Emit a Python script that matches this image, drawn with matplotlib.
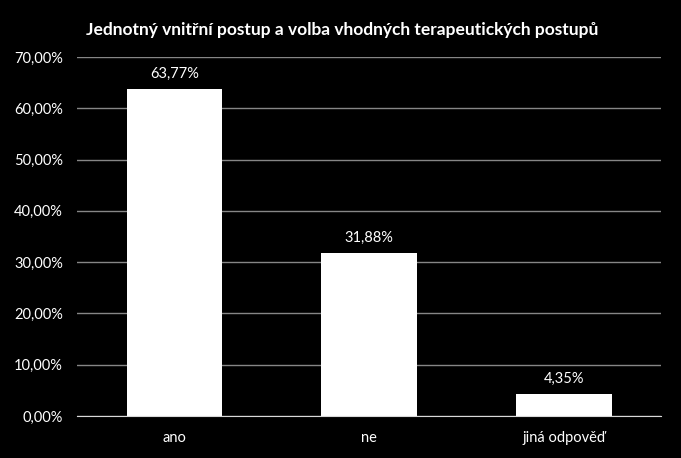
import numpy as np
import matplotlib.pyplot as plt
from matplotlib.ticker import FuncFormatter

categories = ['ano', 'ne', 'jiná odpověď']
values = [63.77, 31.88, 4.35]
title = 'Jednotný vnitřní postup a volba vhodných terapeutických postupů'

plt.rcParams['font.family'] = ['Lato', 'DejaVu Sans']

fig = plt.figure(figsize=(6.81, 4.58), dpi=100, facecolor='black')
ax = fig.add_axes([0.113, 0.0917, 0.858, 0.7838], facecolor='black')

x = np.arange(len(categories))
bars = ax.bar(x, values, width=0.49, color='white', zorder=3)

for b, v in zip(bars, values):
    ax.text(b.get_x() + b.get_width() / 2, v + 1.5, f'{v:.2f}%'.replace('.', ','),
            ha='center', va='bottom', color='white', fontsize=10.5)

ax.set_ylim(0, 70)
ax.set_xlim(-0.5, len(categories) - 0.5)
ax.set_yticks(np.arange(0, 71, 10))
ax.yaxis.set_major_formatter(FuncFormatter(lambda v, p: f'{v:.2f}%'.replace('.', ',')))
ax.set_xticks(x)
ax.set_xticklabels(categories)
ax.tick_params(colors='white', labelsize=10.5, length=0)
ax.tick_params(axis='x', pad=11)
ax.tick_params(axis='y', pad=10)
ax.grid(axis='y', color='#868686', linewidth=1, zorder=0)
for s in ['top', 'right', 'left']:
    ax.spines[s].set_visible(False)
ax.spines['bottom'].set_color('#d9d9d9')
ax.spines['bottom'].set_zorder(4)

fig.text(0.503, 0.935, title, ha='center', va='center', color='white',
         fontsize=12.5, fontweight='bold')

fig.savefig('out.png', dpi=100, facecolor='black')
